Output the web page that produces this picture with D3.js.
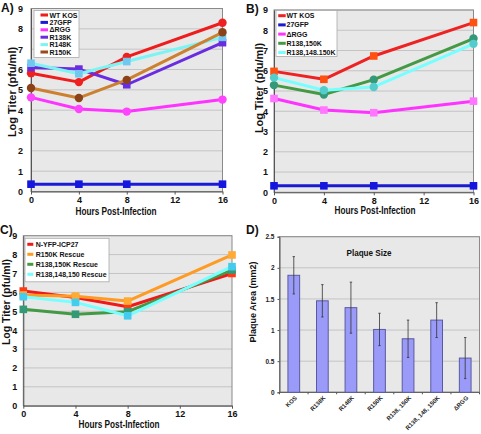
<!DOCTYPE html>
<html><head><meta charset="utf-8">
<script src="https://cdn.jsdelivr.net/npm/d3@7"></script>
<style>
html,body{margin:0;padding:0;background:#fff;}
svg{display:block;font-family:"Liberation Sans",Arial,sans-serif;}
</style></head>
<body><svg id="c" width="481" height="434"></svg>
<script>
// ---------- DATA ----------
const hours = [0, 4, 8, 16];
const xTicks = [0, 4, 8, 12, 16];
const yTicksTiter = [0,1,2,3,4,5,6,7,8,9];

// Panel A
const aNames = ["WT KOS", "27GFP", "\u0394RGG", "R138K", "R148K", "R150K"];
const aWTKOS = [5.82, 5.38, 6.62, 8.30];
const a27GFP = [0.36, 0.36, 0.36, 0.36];
const aDRGG  = [4.63, 4.06, 3.93, 4.52];
const aR138K = [6.10, 6.02, 5.25, 7.32];
const aR148K = [6.31, 5.79, 6.39, 7.58];
const aR150K = [5.09, 4.60, 5.49, 7.83];

// Panel B
const bNames = ["WT KOS", "27GFP", "\u0394RGG", "R138,150K", "R138,148.150K"];
const bWTKOS = [5.97, 5.58, 6.73, 8.38];
const b27GFP = [0.32, 0.32, 0.32, 0.32];
const bDRGG  = [4.63, 4.06, 3.93, 4.50];
const bR138_150K = [5.29, 4.83, 5.56, 7.59];
const bR138_148_150K = [5.66, 5.04, 5.20, 7.33];

// Panel C
const cNames = ["N-YFP-ICP27", "R150K Rescue", "R138,150K Rescue", "R138,148,150 Rescue"];
const cNYFP = [6.07, 5.73, 5.24, 7.00];
const cR150KRescue = [5.86, 5.80, 5.54, 7.98];
const cR138_150KRescue = [5.10, 4.84, 4.98, 7.18];
const cR138_148_150Rescue = [5.77, 5.47, 4.76, 7.36];

// Panel D
const dCategories = ["KOS", "R138K", "R148K", "R150K", "R138, 150K", "R138, 148, 150K", "\u0394RGG"];
const dArea = [1.88, 1.47, 1.36, 1.01, 0.86, 1.16, 0.55];
const dErr  = [0.30, 0.26, 0.41, 0.26, 0.30, 0.28, 0.33];
const dYTicks = [0, 0.5, 1, 1.5, 2, 2.5];

// ---------- DRAWING ----------
const svg = d3.select("#c");
const BG = "#e8e8e8", GRID = "#c4c4c4", FRAME = "#8a8a8a";

function linePanel(cfg) {
  const x = d3.scaleLinear().domain([0, 16]).range([cfg.l, cfg.r]);
  const y = d3.scaleLinear().domain([0, 9]).range([cfg.b, cfg.t]);
  const g = svg.append("g");
  g.append("rect").attr("x", cfg.l).attr("y", cfg.t).attr("width", cfg.r - cfg.l).attr("height", cfg.b - cfg.t)
    .attr("fill", BG);
  g.selectAll("line.grid").data(yTicksTiter.slice(1)).join("line").attr("class", "grid")
    .attr("x1", cfg.l).attr("x2", cfg.r).attr("y1", d => y(d)).attr("y2", d => y(d))
    .attr("stroke", GRID).attr("stroke-width", 1);
  g.append("rect").attr("x", cfg.l).attr("y", cfg.t).attr("width", cfg.r - cfg.l).attr("height", cfg.b - cfg.t)
    .attr("fill", "none").attr("stroke", FRAME).attr("stroke-width", 1);

  const ax = g.append("g").attr("transform", `translate(0,${cfg.b})`)
    .call(d3.axisBottom(x).tickValues(xTicks).tickSize(3).tickSizeOuter(0).tickPadding(2));
  ax.select(".domain").attr("stroke", "#555");
  ax.selectAll(".tick line").attr("stroke", "#555");
  ax.selectAll("text").attr("font-size", 9).attr("font-weight", "bold").attr("fill", "#111")
    .attr("font-family", "Liberation Sans, Arial, sans-serif");
  const ay = g.append("g").attr("transform", `translate(${cfg.l},0)`)
    .call(d3.axisLeft(y).tickValues(yTicksTiter).tickSize(0).tickPadding(cfg.ypad));
  ay.select(".domain").attr("stroke", "#555");
  ay.selectAll("text").attr("font-size", 9).attr("font-weight", "bold").attr("fill", "#111")
    .attr("font-family", "Liberation Sans, Arial, sans-serif");

  g.append("text").attr("x", (cfg.xtx)).attr("y", cfg.xty).attr("text-anchor", "middle")
    .attr("font-size", 10).attr("font-weight", "bold").attr("fill", "#111")
    .attr("textLength", 81).attr("lengthAdjust", "spacingAndGlyphs").text("Hours Post-Infection");
  g.append("text").attr("transform", `translate(${cfg.ytx},${cfg.yty}) rotate(-90)`).attr("text-anchor", "middle")
    .attr("font-size", cfg.yfs || 11).attr("font-weight", "bold").attr("fill", "#111").text("Log Titer (pfu/ml)");
  g.append("text").attr("x", cfg.lx).attr("y", cfg.ly).attr("font-size", 12).attr("font-weight", "bold")
    .attr("fill", "#111").text(cfg.letter);

  const line = d3.line().x((d, i) => x(hours[i])).y(d => y(d));
  cfg.series.forEach(s => {
    g.append("path").datum(s.values).attr("d", line).attr("fill", "none")
      .attr("stroke", s.line).attr("stroke-width", 3).attr("stroke-linejoin", "round");
    if (s.shape === "circle") {
      g.selectAll(null).data(s.values).join("circle")
        .attr("cx", (d, i) => x(hours[i])).attr("cy", d => y(d)).attr("r", 4.2).attr("fill", s.marker);
    } else {
      g.selectAll(null).data(s.values).join("rect")
        .attr("x", (d, i) => x(hours[i]) - 3.8).attr("y", d => y(d) - 3.8)
        .attr("width", 7.6).attr("height", 7.6).attr("fill", s.marker);
    }
  });

  // legend
  const L = cfg.legend;
  const lg = g.append("g");
  lg.append("rect").attr("x", L.x).attr("y", L.y).attr("width", L.w).attr("height", L.h)
    .attr("fill", "#fff").attr("stroke", "#aaa").attr("stroke-width", 0.8);
  cfg.series.forEach((s, i) => {
    const yy = L.y + L.first + i * L.step;
    lg.append("rect").attr("x", L.x + L.sx).attr("y", yy - 1.5).attr("width", L.sw).attr("height", 3)
      .attr("fill", s.legend || s.line);
    lg.append("text").attr("x", L.x + L.tx).attr("y", yy + 2.5).attr("font-size", 7)
      .attr("font-weight", "bold").attr("fill", "#111").text(s.name);
  });
}

// Panel A
linePanel({
  l: 31, r: 222.5, t: 8.5, b: 191.5, ypad: 8,
  xtx: 116, xty: 215, ytx: 16, yty: 92, lx: 1, ly: 12, letter: "A)",
  legend: {x: 34, y: 10.5, w: 45, h: 47, first: 4.5, step: 7.4, sx: 6.5, sw: 7.5, tx: 15.5},
  series: [
    {name: aNames[0], values: aWTKOS, line: "#ee1c1c", marker: "#ee2020", shape: "circle"},
    {name: aNames[1], values: a27GFP, line: "#1a1ad8", marker: "#1515e0", shape: "square"},
    {name: aNames[2], values: aDRGG, line: "#ff33ff", marker: "#ff44ff", shape: "circle"},
    {name: aNames[3], values: aR138K, line: "#6a2ce0", marker: "#6a2ce0", shape: "square"},
    {name: aNames[4], values: aR148K, line: "#7cf4f4", marker: "#70c8f0", shape: "square"},
    {name: aNames[5], values: aR150K, line: "#cc8030", marker: "#8b4218", shape: "circle", legend: "#9a4a1c"}
  ]
});

// Panel B
linePanel({
  l: 274, r: 473.5, t: 10, b: 192.3, ypad: 6,
  xtx: 375, xty: 214, ytx: 263, yty: 88, lx: 246, ly: 13, letter: "B)",
  legend: {x: 276, y: 10.5, w: 61, h: 46, first: 5.2, step: 9.2, sx: 2.2, sw: 7.5, tx: 10.5},
  series: [
    {name: bNames[0], values: bWTKOS, line: "#ee2222", marker: "#ff5011", shape: "square"},
    {name: bNames[1], values: b27GFP, line: "#1a1ad0", marker: "#1515e0", shape: "square"},
    {name: bNames[2], values: bDRGG, line: "#ff33ff", marker: "#ff77ff", shape: "square"},
    {name: bNames[3], values: bR138_150K, line: "#449944", marker: "#339977", shape: "circle"},
    {name: bNames[4], values: bR138_148_150K, line: "#77ffff", marker: "#55cccc", shape: "circle"}
  ]
});

// Panel C
linePanel({
  l: 23.3, r: 232, t: 235.7, b: 405.7, ypad: 6, yfs: 10.5,
  xtx: 119, xty: 428, ytx: 10, yty: 302, lx: 0, ly: 234, letter: "C)",
  legend: {x: 25, y: 238.3, w: 84, h: 43.5, first: 6, step: 10, sx: 2.3, sw: 6, tx: 10.7},
  series: [
    {name: cNames[0], values: cNYFP, line: "#ee1a1a", marker: "#ff3a14", shape: "square"},
    {name: cNames[1], values: cR150KRescue, line: "#ff9a22", marker: "#ffaa33", shape: "square"},
    {name: cNames[2], values: cR138_150KRescue, line: "#449944", marker: "#339977", shape: "square"},
    {name: cNames[3], values: cR138_148_150Rescue, line: "#77ffff", marker: "#44ccee", shape: "square"}
  ]
});

// Panel D
(function () {
  const l = 279.5, r = 479.5, t = 236.7, b = 392.3;
  const x = d3.scaleBand().domain(dCategories).range([l, r]).paddingInner(0.59).paddingOuter(0.295);
  const y = d3.scaleLinear().domain([0, 2.5]).range([b, t]);
  const g = svg.append("g");
  g.append("rect").attr("x", l).attr("y", t).attr("width", r - l).attr("height", b - t).attr("fill", BG);
  g.selectAll("line.grid").data(dYTicks.slice(1)).join("line").attr("class", "grid")
    .attr("x1", l).attr("x2", r).attr("y1", d => y(d)).attr("y2", d => y(d))
    .attr("stroke", GRID).attr("stroke-width", 1);
  g.append("rect").attr("x", l).attr("y", t).attr("width", r - l).attr("height", b - t)
    .attr("fill", "none").attr("stroke", FRAME).attr("stroke-width", 1);

  const ay = g.append("g").attr("transform", `translate(${l},0)`)
    .call(d3.axisLeft(y).tickValues(dYTicks).tickFormat(d3.format("")).tickSize(2).tickPadding(3));
  ay.select(".domain").attr("stroke", "#555");
  ay.selectAll(".tick line").attr("stroke", "#555");
  ay.selectAll("text").attr("font-size", 6.5).attr("font-weight", "bold").attr("fill", "#222")
    .attr("font-family", "Liberation Sans, Arial, sans-serif");
  g.append("line").attr("x1", l).attr("x2", r).attr("y1", b).attr("y2", b).attr("stroke", "#555");
  g.selectAll("line.xt").data(dCategories.concat(["_end"])).join("line").attr("class", "xt")
    .attr("x1", (d, i) => l + i * x.step()).attr("x2", (d, i) => l + i * x.step())
    .attr("y1", b).attr("y2", b + 2).attr("stroke", "#555");

  g.selectAll("rect.bar").data(dArea).join("rect").attr("class", "bar")
    .attr("x", (d, i) => x(dCategories[i])).attr("y", d => y(d))
    .attr("width", x.bandwidth()).attr("height", d => b - y(d))
    .attr("fill", "#9a9af8").attr("stroke", "#5a5aa0").attr("stroke-width", 1);

  const cx = i => x(dCategories[i]) + x.bandwidth() / 2;
  g.selectAll("line.err").data(dArea).join("line").attr("class", "err")
    .attr("x1", (d, i) => cx(i)).attr("x2", (d, i) => cx(i))
    .attr("y1", (d, i) => y(d + dErr[i])).attr("y2", (d, i) => y(d - dErr[i]))
    .attr("stroke", "#333").attr("stroke-width", 0.8);
  [1, -1].forEach(sgn => {
    g.selectAll(null).data(dArea).join("line")
      .attr("x1", (d, i) => cx(i) - 1.2).attr("x2", (d, i) => cx(i) + 1.2)
      .attr("y1", (d, i) => y(d + sgn * dErr[i])).attr("y2", (d, i) => y(d + sgn * dErr[i]))
      .attr("stroke", "#333").attr("stroke-width", 0.8);
  });

  g.selectAll("text.xl").data(dCategories).join("text").attr("class", "xl")
    .attr("transform", (d, i) => `translate(${cx(i) + 3.5},${b + 6}) rotate(-45)`)
    .attr("text-anchor", "end").attr("font-size", 6).attr("font-weight", "bold").attr("fill", "#222")
    .text(d => d);

  g.append("text").attr("x", 369).attr("y", 255.5).attr("text-anchor", "middle")
    .attr("font-size", 9.5).attr("font-weight", "bold").attr("fill", "#111")
    .attr("textLength", 45).attr("lengthAdjust", "spacingAndGlyphs").text("Plaque Size");
  g.append("text").attr("transform", `translate(256,302) rotate(-90)`).attr("text-anchor", "middle")
    .attr("font-size", 9).attr("font-weight", "bold").attr("fill", "#111").text("Plaque Area (mm2)");
  g.append("text").attr("x", 246).attr("y", 234).attr("font-size", 12).attr("font-weight", "bold")
    .attr("fill", "#111").text("D)");
})();
</script></body></html>
